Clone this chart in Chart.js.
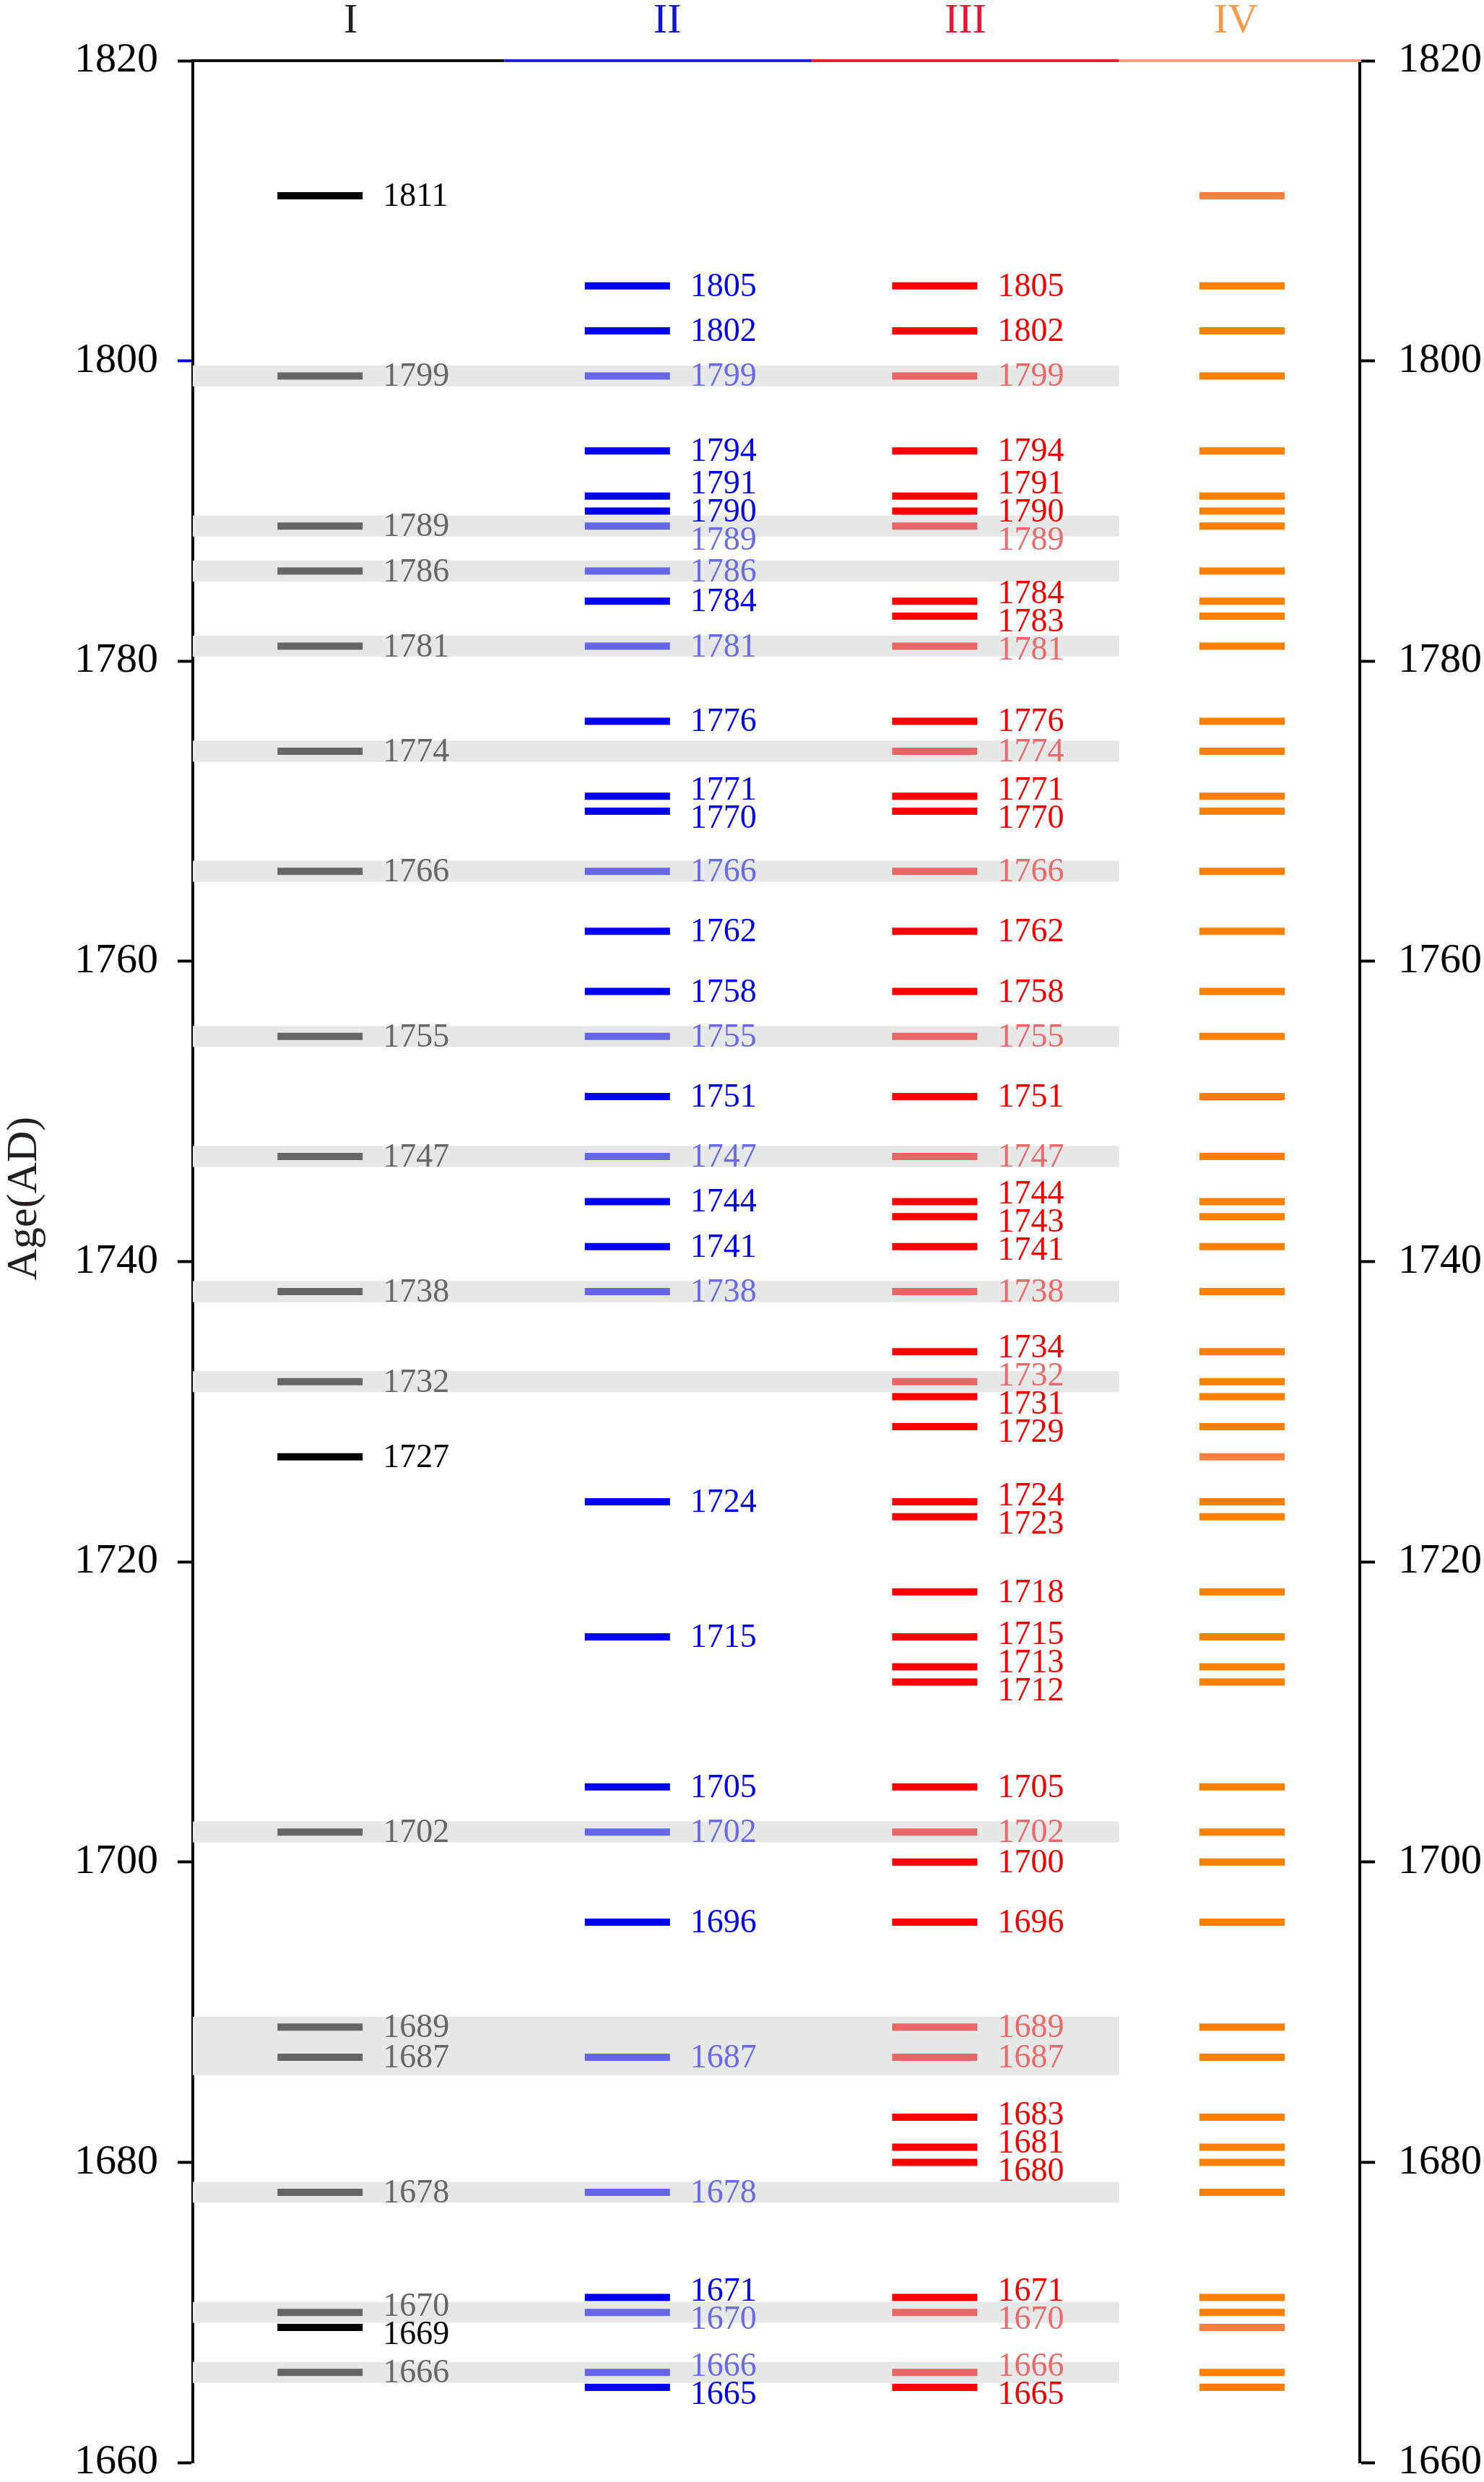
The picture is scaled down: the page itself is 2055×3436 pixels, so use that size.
<!DOCTYPE html>
<html>
<head>
<meta charset="utf-8">
<title>Age (AD) by column</title>
<script src="https://cdn.jsdelivr.net/npm/chart.js@4.4.1/dist/chart.umd.min.js"></script>
<style>
  html, body { margin: 0; padding: 0; background: #ffffff; overflow: hidden; }
  #wrap { width: 2055px; height: 3436px; position: relative; }
</style>
</head>
<body>
<div id="wrap"><canvas id="ageChart"></canvas></div>
<script>
// column headers
var columnNames = ['I', 'II', 'III', 'IV'];

// years marked in each column
var yearsI = [1811, 1799, 1789, 1786, 1781, 1774, 1766, 1755, 1747, 1738, 1732, 1727,
  1702, 1689, 1687, 1678, 1670, 1669, 1666];
var yearsII = [1805, 1802, 1799, 1794, 1791, 1790, 1789, 1786, 1784, 1781, 1776, 1771,
  1770, 1766, 1762, 1758, 1755, 1751, 1747, 1744, 1741, 1738, 1724, 1715, 1705, 1702,
  1696, 1687, 1678, 1671, 1670, 1666, 1665];
var yearsIII = [1805, 1802, 1799, 1794, 1791, 1790, 1789, 1784, 1783, 1781, 1776, 1774,
  1771, 1770, 1766, 1762, 1758, 1755, 1751, 1747, 1744, 1743, 1741, 1738, 1734, 1732,
  1731, 1729, 1724, 1723, 1718, 1715, 1713, 1712, 1705, 1702, 1700, 1696, 1689, 1687,
  1683, 1681, 1680, 1671, 1670, 1666, 1665];
var yearsIV = [1811, 1805, 1802, 1799, 1794, 1791, 1790, 1789, 1786, 1784, 1783, 1781,
  1776, 1774, 1771, 1770, 1766, 1762, 1758, 1755, 1751, 1747, 1744, 1743, 1741, 1738,
  1734, 1732, 1731, 1729, 1727, 1724, 1723, 1718, 1715, 1713, 1712, 1705, 1702, 1700,
  1696, 1689, 1687, 1683, 1681, 1680, 1678, 1671, 1670, 1669, 1666, 1665];

// years shared with column I (drawn faint) and the faint marks in column IV
var sharedYears = [1799, 1789, 1786, 1781, 1774, 1766, 1755, 1747, 1738, 1732, 1702,
  1689, 1687, 1678, 1670, 1666];
var faintIV = [1811, 1727, 1669];

// gray bands behind the shared years, [from, to]
var bandRanges = [[1798.3, 1799.7], [1788.3, 1789.7], [1785.3, 1786.7], [1780.3, 1781.7],
  [1773.3, 1774.7], [1765.3, 1766.7], [1754.3, 1755.7], [1746.3, 1747.7], [1737.3, 1738.7],
  [1731.3, 1732.7], [1701.3, 1702.7], [1685.8, 1689.7], [1677.3, 1678.7], [1669.3, 1670.7],
  [1665.3, 1666.7]];

// axis
var yTicks = [1660, 1680, 1700, 1720, 1740, 1760, 1780, 1800, 1820];

var FONT = "'Liberation Serif', 'Times New Roman', serif";
Chart.defaults.font.family = FONT;

var markColors = [
  { normal: '#000000', shared: '#666666' },
  { normal: '#0000ee', shared: '#6666e6' },
  { normal: '#ff0000', shared: '#e86666' },
  { normal: '#ff8000', shared: '#ff7f40' }
];
var labelColors = [
  { normal: '#000000', shared: '#666666' },
  { normal: '#0000ee', shared: '#6a6ae8' },
  { normal: '#ee0000', shared: '#e86a6a' }
];
var headerColors = ['#231f20', '#1010e0', '#ee1133', '#f59a4a'];
var headerShift = [0.1, 0.13, 0.1, -0.02];
var topLineColors = ['#111111', '#2222dd', '#e82030', '#f8a07a'];

function isShared(col, year) {
  if (col === 3) return faintIV.indexOf(year) >= 0;
  return sharedYears.indexOf(year) >= 0;
}

function makeDataset(years, col) {
  return {
    label: columnNames[col],
    data: years.map(function (y) { return { x: col, y: y }; }),
    showLine: false,
    pointStyle: 'line',
    pointRadius: 59,
    pointHoverRadius: 59,
    pointBorderWidth: 10,
    pointHoverBorderWidth: 10,
    pointBorderColor: function (ctx) {
      var c = markColors[col];
      return isShared(col, ctx.raw.y) ? c.shared : c.normal;
    }
  };
}

// push overlapping labels apart, keeping each group centred on its marks
function spreadLabels(pixels, gap) {
  var groups = [];
  pixels.forEach(function (p) {
    groups.push({ start: p, n: 1, sum: p });
    while (groups.length > 1) {
      var a = groups[groups.length - 2];
      var b = groups[groups.length - 1];
      var aEnd = a.start + (a.n - 1) * gap;
      if (b.start - aEnd >= gap) break;
      var m = { n: a.n + b.n, sum: a.sum + b.sum };
      m.start = m.sum / m.n - (m.n - 1) * gap / 2;
      groups.splice(-2, 2, m);
    }
  });
  var out = [];
  groups.forEach(function (g) {
    for (var k = 0; k < g.n; k++) out.push(g.start + k * gap);
  });
  return out;
}

var decorations = {
  id: 'decorations',
  beforeDatasetsDraw: function (chart) {
    var ctx = chart.ctx, area = chart.chartArea;
    var x = chart.scales.x, y = chart.scales.y;
    var right = x.getPixelForValue(2.6);
    ctx.save();
    ctx.fillStyle = '#e6e7e7';
    bandRanges.forEach(function (b) {
      var top = y.getPixelForValue(b[1]);
      var bottom = y.getPixelForValue(b[0]);
      ctx.fillRect(area.left, top, right - area.left, bottom - top);
    });
    ctx.restore();
  },
  afterDatasetsDraw: function (chart) {
    var ctx = chart.ctx;
    var x = chart.scales.x, y = chart.scales.y;
    var columns = [yearsI, yearsII, yearsIII];
    ctx.save();
    ctx.font = '46px ' + FONT;
    ctx.textBaseline = 'middle';
    ctx.textAlign = 'left';
    columns.forEach(function (years, col) {
      var sorted = years.slice().sort(function (a, b) { return b - a; });
      var pix = sorted.map(function (yr) { return y.getPixelForValue(yr); });
      var pos = spreadLabels(pix, 39);
      var lx = x.getPixelForValue(col) + 59 + 28;
      sorted.forEach(function (yr, i) {
        var c = labelColors[col];
        ctx.fillStyle = isShared(col, yr) ? c.shared : c.normal;
        ctx.fillText(String(yr), lx, pos[i] + 2);
      });
    });
    ctx.restore();
  },
  afterDraw: function (chart) {
    var ctx = chart.ctx, area = chart.chartArea;
    var x = chart.scales.x;
    ctx.save();
    // coloured top line
    var cuts = [area.left - 2, x.getPixelForValue(0.6), x.getPixelForValue(1.6),
      x.getPixelForValue(2.6), area.right + 2];
    ctx.lineWidth = 4;
    for (var i = 0; i < 4; i++) {
      ctx.strokeStyle = topLineColors[i];
      ctx.beginPath();
      ctx.moveTo(cuts[i], area.top);
      ctx.lineTo(cuts[i + 1], area.top);
      ctx.stroke();
    }
    // column headers
    ctx.font = '58px ' + FONT;
    ctx.textAlign = 'center';
    ctx.textBaseline = 'middle';
    columnNames.forEach(function (name, col) {
      ctx.fillStyle = headerColors[col];
      ctx.fillText(name, x.getPixelForValue(col + headerShift[col]), 30);
    });
    // axis title
    ctx.translate(34, 1659);
    ctx.rotate(-Math.PI / 2);
    ctx.font = '60px ' + FONT;
    ctx.fillStyle = '#231f20';
    ctx.fillText('Age(AD)', 0, 0);
    ctx.restore();
  }
};

function yAxis(position, width) {
  return {
    type: 'linear',
    position: position,
    min: 1660,
    max: 1820,
    afterBuildTicks: function (scale) {
      scale.ticks = yTicks.map(function (v) { return { value: v }; });
    },
    afterFit: function (scale) {
      scale.width = width;
      scale.paddingTop = 0;
      scale.paddingBottom = 0;
    },
    ticks: {
      color: '#000000',
      padding: position === 'left' ? 27 : 32,
      font: { size: 58, family: FONT },
      callback: function (v) { return String(v); }
    },
    grid: {
      drawOnChartArea: false,
      tickLength: 21,
      tickWidth: 4,
      tickColor: function (ctx) {
        return (position === 'left' && ctx.tick && ctx.tick.value === 1800) ? '#0000ee' : '#000000';
      }
    },
    border: { display: true, color: '#000000', width: 4 }
  };
}

var chart = new Chart(document.getElementById('ageChart').getContext('2d'), {
  type: 'scatter',
  data: {
    datasets: [
      makeDataset(yearsI, 0),
      makeDataset(yearsII, 1),
      makeDataset(yearsIII, 2),
      makeDataset(yearsIV, 3)
    ]
  },
  options: {
    responsive: true,
    maintainAspectRatio: false,
    animation: false,
    events: [],
    layout: { autoPadding: false, padding: { top: 84, bottom: 27, left: 0, right: 0 } },
    plugins: {
      legend: { display: false },
      tooltip: { enabled: false }
    },
    scales: {
      x: { type: 'linear', min: -0.414, max: 3.383, display: false },
      y: yAxis('left', 267),
      y2: yAxis('right', 172)
    }
  },
  plugins: [decorations]
});
</script>
</body>
</html>
